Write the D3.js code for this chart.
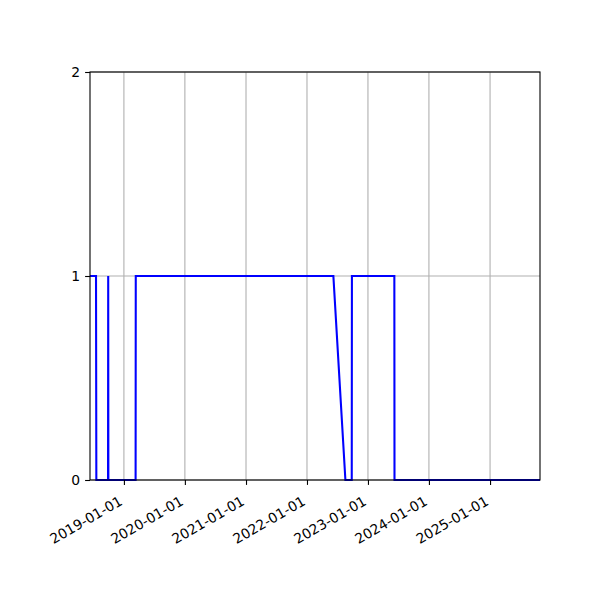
<!DOCTYPE html>
<html>
<head>
  <style>
    body { margin: 0; background: #fff; }
    text { font-family: "DejaVu Sans", sans-serif; }
  </style>
</head>
<body>
  <script src="https://d3js.org/d3.v7.min.js"></script>
  <script>
    // data
    const dates = ["2018-06-12", "2018-07-18", "2018-07-20", "2018-09-28", "2018-09-29", "2018-09-30",
      "2019-03-12", "2019-03-13", "2022-06-08", "2022-08-19", "2022-09-26", "2022-09-27",
      "2023-06-08", "2023-06-09", "2025-10-27"];
    const values = [1, 1, 0, 0, 1, 0, 0, 1, 1, 0, 0, 1, 1, 0, 0];
    const xTickLabels = ["2019-01-01", "2020-01-01", "2021-01-01", "2022-01-01", "2023-01-01", "2024-01-01", "2025-01-01"];
    const yTicks = [0, 1, 2];

    const width = 600;
    const height = 600;
    const margin = {top: 72, right: 60, bottom: 120, left: 90};
    const parse = d3.timeParse("%Y-%m-%d");

    const points = dates.map(function(d, i) {
      return {date: parse(d), value: values[i]};
    });

    const svg = d3.select('body')
      .append('svg')
      .attr('width', width)
      .attr('height', height);

    const x = d3.scaleTime()
      .domain(d3.extent(points, function(d) { return d.date; }))
      .range([margin.left, width - margin.right]);

    const y = d3.scaleLinear()
      .domain([0, 2])
      .range([height - margin.bottom, margin.top]);

    // grid
    svg.append('g')
      .selectAll('line')
      .data(xTickLabels.map(parse))
      .enter()
      .append('line')
      .attr('x1', function(d) { return x(d); })
      .attr('x2', function(d) { return x(d); })
      .attr('y1', margin.top)
      .attr('y2', height - margin.bottom)
      .style('stroke', '#b0b0b0')
      .style('stroke-width', 1.1);

    svg.append('g')
      .selectAll('line')
      .data(yTicks)
      .enter()
      .append('line')
      .attr('x1', margin.left)
      .attr('x2', width - margin.right)
      .attr('y1', function(d) { return y(d); })
      .attr('y2', function(d) { return y(d); })
      .style('stroke', '#b0b0b0')
      .style('stroke-width', 1.1);

    // the series
    const line = d3.line()
      .x(function(d) { return x(d.date); })
      .y(function(d) { return y(d.value); });

    svg.append('path')
      .datum(points)
      .attr('d', line)
      .style('fill', 'none')
      .style('stroke', '#0000ff')
      .style('stroke-width', 2.08);

    // frame
    svg.append('rect')
      .attr('x', margin.left)
      .attr('y', margin.top)
      .attr('width', width - margin.left - margin.right)
      .attr('height', height - margin.top - margin.bottom)
      .style('fill', 'none')
      .style('stroke', '#000')
      .style('stroke-width', 1.1);

    // axes
    const xAxis = svg.append('g')
      .attr('transform', 'translate(0,' + (height - margin.bottom) + ')')
      .call(d3.axisBottom(x)
        .tickValues(xTickLabels.map(parse))
        .tickFormat(d3.timeFormat("%Y-%m-%d"))
        .tickSizeInner(4.9)
        .tickSizeOuter(0));

    xAxis.select('.domain').remove();
    xAxis.selectAll('.tick line').style('stroke', '#000').style('stroke-width', 1.1);
    xAxis.selectAll('.tick text')
      .attr('y', 0)
      .attr('dy', 0)
      .attr('text-anchor', 'end')
      .attr('transform', 'translate(-1,24) rotate(-30)')
      .style('font-size', '13.9px')
      .style('fill', '#000');

    const yAxis = svg.append('g')
      .attr('transform', 'translate(' + margin.left + ',0)')
      .call(d3.axisLeft(y)
        .tickValues(yTicks)
        .tickFormat(d3.format('d'))
        .tickSizeInner(4.9)
        .tickSizeOuter(0)
        .tickPadding(4.9));

    yAxis.select('.domain').remove();
    yAxis.selectAll('.tick line').style('stroke', '#000').style('stroke-width', 1.1);
    yAxis.selectAll('.tick text')
      .style('font-size', '13.9px')
      .style('fill', '#000');
  </script>
</body>
</html>
